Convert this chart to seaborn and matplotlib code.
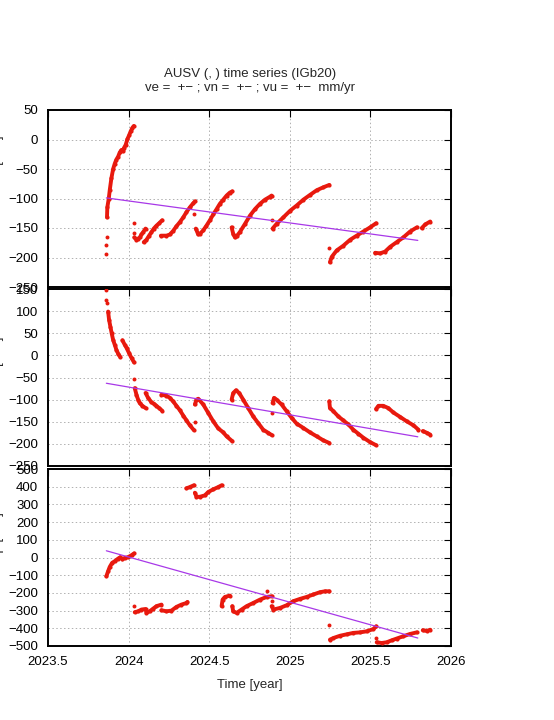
import pandas as pd
import matplotlib
matplotlib.use("Agg")
import matplotlib.pyplot as plt
import seaborn as sns

# ---- data (time in decimal years, values in mm) ----
# East component: segments of continuous data
east_segments = [
    ([2023.866, 2023.868, 2023.877, 2023.883, 2023.893, 2023.904, 2023.914, 2023.924, 2023.935,
      2023.945, 2023.955, 2023.966, 2023.970, 2023.982, 2023.993, 2024.003, 2024.013, 2024.024, 2024.032],
     [-132, -115, -100, -86, -66, -50, -41, -34, -29, -22, -18, -20, -15, -9, 1, 7, 14, 20, 23]),
    ([2024.036, 2024.049, 2024.059, 2024.069, 2024.080, 2024.090, 2024.105],
     [-166, -170, -168, -166, -161, -157, -151]),
    ([2024.094, 2024.111, 2024.127, 2024.142, 2024.156, 2024.173, 2024.189, 2024.208],
     [-174, -170, -163, -157, -151, -146, -142, -137]),
    ([2024.200, 2024.235, 2024.256, 2024.276, 2024.297, 2024.318, 2024.339, 2024.359, 2024.380, 2024.401, 2024.411],
     [-163, -163, -161, -155, -147, -140, -132, -123, -115, -108, -105]),
    ([2024.417, 2024.432, 2024.442, 2024.463, 2024.483, 2024.504, 2024.525, 2024.546, 2024.566, 2024.587,
      2024.608, 2024.628, 2024.643],
     [-151, -161, -160, -154, -146, -137, -127, -118, -109, -102, -95, -90, -88]),
    ([2024.639, 2024.649, 2024.660, 2024.670, 2024.690, 2024.722, 2024.753, 2024.784, 2024.815, 2024.846,
      2024.877, 2024.887],
     [-149, -160, -166, -164, -157, -143, -129, -118, -109, -102, -97, -95]),
    ([2024.893, 2024.918, 2024.960, 2025.001, 2025.042, 2025.084, 2025.125, 2025.167, 2025.208, 2025.245],
     [-151, -143, -132, -121, -112, -102, -94, -86, -81, -77]),
    ([2025.249, 2025.260, 2025.291, 2025.332, 2025.374, 2025.415, 2025.456, 2025.498, 2025.535],
     [-208, -199, -188, -180, -170, -163, -156, -149, -142]),
    ([2025.529, 2025.560, 2025.591, 2025.622, 2025.663, 2025.704, 2025.746, 2025.788],
     [-192, -193, -190, -182, -174, -166, -156, -149]),
    ([2025.819, 2025.840, 2025.871],
     [-150, -144, -139]),
]
east_outlier_t = [2023.862, 2023.862, 2023.864, 2024.034, 2024.034, 2024.407, 2024.887, 2025.245]
east_outlier_v = [-194, -179, -166, -142, -159, -126, -137, -184]
east_fit_t = [2023.862, 2025.794]
east_fit_v = [-99, -171]

# North component
north_segments = [
    ([2023.873, 2023.879, 2023.887, 2023.895, 2023.904, 2023.914, 2023.924, 2023.935, 2023.949],
     [99, 80, 65, 50, 35, 24, 13, 4, -4]),
    ([2023.962, 2023.976, 2023.987, 2024.003, 2024.018, 2024.034],
     [34, 24, 17, 5, -6, -16]),
    ([2024.038, 2024.049, 2024.059, 2024.069, 2024.086, 2024.105],
     [-74, -89, -100, -108, -114, -119]),
    ([2024.105, 2024.121, 2024.142, 2024.156, 2024.173, 2024.189, 2024.208],
     [-85, -96, -106, -109, -114, -119, -125]),
    ([2024.204, 2024.235, 2024.256, 2024.276, 2024.297, 2024.318, 2024.339, 2024.359, 2024.380, 2024.405],
     [-89, -91, -96, -104, -114, -124, -136, -147, -158, -169]),
    ([2024.411, 2024.421, 2024.432, 2024.463, 2024.494, 2024.525, 2024.556, 2024.587, 2024.608, 2024.643],
     [-111, -100, -98, -111, -130, -149, -165, -174, -183, -194]),
    ([2024.639, 2024.649, 2024.666, 2024.686, 2024.711, 2024.742, 2024.773, 2024.804, 2024.835, 2024.866, 2024.887],
     [-100, -85, -79, -85, -100, -119, -138, -153, -168, -175, -180]),
    ([2024.893, 2024.902, 2024.918, 2024.949, 2024.980, 2025.011, 2025.042, 2025.084, 2025.125, 2025.167,
      2025.208, 2025.245],
     [-108, -96, -100, -111, -126, -141, -154, -164, -174, -183, -192, -198]),
    ([2025.245, 2025.249, 2025.270, 2025.301, 2025.332, 2025.363, 2025.394, 2025.425, 2025.456, 2025.498, 2025.535],
     [-104, -119, -126, -138, -147, -156, -168, -177, -186, -196, -203]),
    ([2025.535, 2025.550, 2025.580, 2025.611, 2025.642, 2025.684, 2025.725, 2025.767, 2025.798],
     [-121, -114, -114, -119, -129, -139, -149, -158, -168]),
    ([2025.825, 2025.850, 2025.871],
     [-171, -175, -179]),
]
north_outlier_t = [2023.862, 2023.862, 2023.864, 2024.034, 2024.409, 2024.887]
north_outlier_v = [147, 125, 119, -53, -150, -130]
north_fit_t = [2023.862, 2025.794]
north_fit_v = [-63, -184]

# Up component
up_segments = [
    ([2023.862, 2023.873, 2023.883, 2023.898, 2023.914, 2023.935, 2023.949, 2023.962, 2023.976, 2023.997,
      2024.018, 2024.034],
     [-106, -77, -53, -30, -21, -6, 2, -11, -2, 2, 13, 23]),
    ([2024.038, 2024.059, 2024.080, 2024.105, 2024.111, 2024.131, 2024.152, 2024.173, 2024.204],
     [-309, -304, -294, -291, -313, -304, -289, -275, -266]),
    ([2024.204, 2024.235, 2024.266, 2024.297, 2024.328, 2024.359, 2024.365],
     [-298, -304, -300, -279, -266, -257, -251]),
    ([2024.359, 2024.380, 2024.405],
     [391, 398, 408]),
    ([2024.411, 2024.421, 2024.442, 2024.473, 2024.494, 2024.525, 2024.556, 2024.577],
     [366, 343, 343, 351, 370, 385, 398, 408]),
    ([2024.577, 2024.583, 2024.597, 2024.628],
     [-275, -238, -223, -215]),
    ([2024.643, 2024.649, 2024.670, 2024.701, 2024.732, 2024.773, 2024.815, 2024.856, 2024.887],
     [-275, -304, -313, -294, -275, -257, -238, -223, -219]),
    ([2024.887, 2024.898, 2024.939, 2024.980, 2025.021, 2025.063, 2025.104, 2025.146, 2025.187, 2025.218, 2025.245],
     [-275, -294, -285, -270, -247, -234, -223, -209, -196, -191, -191]),
    ([2025.249, 2025.270, 2025.312, 2025.353, 2025.394, 2025.436, 2025.477, 2025.519, 2025.535],
     [-464, -455, -442, -434, -426, -423, -417, -404, -389]),
    ([2025.539, 2025.570, 2025.601, 2025.632, 2025.663, 2025.704, 2025.746, 2025.788],
     [-479, -483, -479, -468, -458, -445, -432, -423]),
    ([2025.825, 2025.850, 2025.871],
     [-411, -415, -408]),
]
up_outlier_t = [2024.034, 2024.856, 2024.887, 2025.245, 2025.535]
up_outlier_v = [-275, -191, -247, -383, -455]
up_fit_t = [2023.862, 2025.794]
up_fit_v = [38, -455]

panel_names = ["East [mm]", "North [mm]", "Up [mm]"]
y_limits = [(-250, 50), (-250, 150), (-500, 500)]
y_steps = [50, 50, 100]
x_ticks = [2023.5, 2024, 2024.5, 2025, 2025.5, 2026]
x_tick_labels = ["2023.5", "2024", "2024.5", "2025", "2025.5", "2026"]

title = "AUSV (, ) time series (IGb20)\nve =  +\u2212 ; vn =  +\u2212 ; vu =  +\u2212  mm/yr"

POINT_COLOR = "#e8190e"
FIT_COLOR = "#a838e8"


def seg_frame(segments):
    rows = []
    for i, (ts, vs) in enumerate(segments):
        for t, v in zip(ts, vs):
            rows.append({"t": t, "v": v, "seg": i})
    return pd.DataFrame(rows)


sns.set_theme(style="white")
plt.rcParams["font.family"] = ["Liberation Sans", "DejaVu Sans"]
plt.rcParams["font.size"] = 9.5
plt.rcParams["axes.unicode_minus"] = True

fig = plt.figure(figsize=(5.54, 7.2), dpi=100)
W, H = 554, 720
panel_tops = [110, 289, 469]
panel_h = 177
ax_left, ax_right = 48, 451
label_tops = [135, 336, 512]

panels = [
    (east_segments, east_outlier_t, east_outlier_v, east_fit_t, east_fit_v),
    (north_segments, north_outlier_t, north_outlier_v, north_fit_t, north_fit_v),
    (up_segments, up_outlier_t, up_outlier_v, up_fit_t, up_fit_v),
]

for k, (segs, ot, ov, ft, fv) in enumerate(panels):
    top = panel_tops[k]
    ax = fig.add_axes([ax_left / W, 1 - (top + panel_h) / H,
                       (ax_right - ax_left) / W, panel_h / H])
    df = seg_frame(segs)
    sns.lineplot(data=df, x="t", y="v", units="seg", estimator=None, sort=False,
                 color=POINT_COLOR, lw=2.8, marker="o", markersize=3.0,
                 markeredgewidth=0, ax=ax, zorder=3)
    sns.scatterplot(x=ot, y=ov, color=POINT_COLOR, s=8, linewidth=0, ax=ax, zorder=3)
    sns.lineplot(x=ft, y=fv, color=FIT_COLOR, lw=0.9, ax=ax, zorder=4)

    lo, hi = y_limits[k]
    ax.set_xlim(2023.5, 2026)
    ax.set_ylim(lo, hi)
    ax.set_yticks(list(range(lo, hi + 1, y_steps[k])))
    ax.set_xticks(x_ticks)
    ax.grid(True, color="#b0b0b0", linestyle=(0, (1.5, 2.5)), linewidth=0.7)
    ax.tick_params(direction="in", length=5, width=0.8, top=True, right=True,
                   labelsize=9.5, colors="black", pad=7)
    for sp in ax.spines.values():
        sp.set_linewidth(1.4)
        sp.set_color("black")
    ax.set_xlabel("")
    ax.set_ylabel("")
    if k < 2:
        ax.set_xticklabels([])
    else:
        ax.set_xticklabels(x_tick_labels)
        ax.set_xlabel("Time [year]", fontsize=9.5, labelpad=8)
    fig.text(4 / W, 1 - label_tops[k] / H, panel_names[k], rotation=90,
             ha="right", va="top", fontsize=9.5)

fig.text(250 / W, 1 - 81 / H, title, ha="center", va="center", fontsize=9.5,
         linespacing=1.2)

fig.savefig("out.png", dpi=100)
